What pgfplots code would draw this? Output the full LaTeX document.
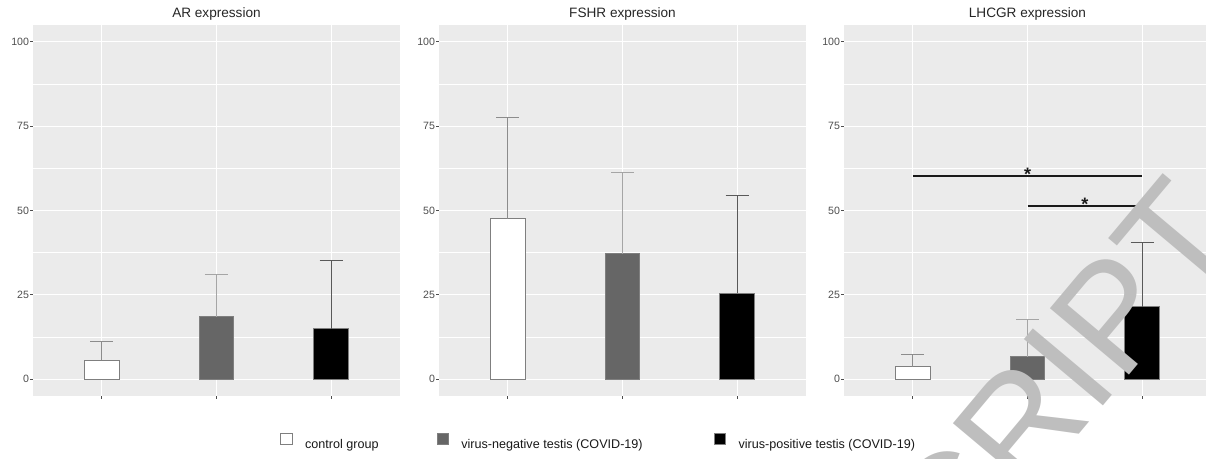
\documentclass[border=0pt]{standalone}
\usepackage{pgfplots}
\pgfplotsset{compat=1.18}
\usepackage{fontspec}
\setmainfont{Liberation Sans}
\definecolor{bgc}{HTML}{EBEBEB}
\definecolor{tickc}{HTML}{4D4D4D}
\definecolor{bord}{HTML}{7F7F7F}
\definecolor{negc}{HTML}{666666}
\definecolor{wm}{HTML}{BEBEBE}
\pgfplotsset{
  panel/.style={
    scale only axis, width=183.5pt, height=185.5pt,
    xmin=0.4, xmax=3.6, ymin=-5, ymax=105,
    axis background/.style={fill=bgc},
    axis line style={draw=none},
    xtick={1,2,3}, xticklabels={,,}, ytick={0,25,50,75,100},
    minor ytick={12.5,37.5,62.5,87.5},
    xmajorgrids, ymajorgrids, yminorgrids,
    major grid style={white, line width=0.55pt},
    minor grid style={white, line width=0.3pt},
    tick align=outside, tick pos=left,
    major tick length=1.3pt, minor tick length=0pt,
    tick style={tickc, line width=0.4pt},
    yticklabel style={font=\fontsize{5.3}{6}\selectfont, text=tickc, inner sep=0.5pt},
    /pgf/number format/assume math mode=true,
    every axis title/.style={at={(0.5,1)}, anchor=base, yshift=3.5pt, inner sep=0pt,
      font=\fontsize{6.8}{8}\selectfont, text=black!85},
    clip=false,
  },
  bars/.style={ybar, bar width=0.3, bar shift=0pt, line width=0.5pt, draw=bord,
    error bars/y dir=plus, error bars/y explicit,
    error bars/error mark=|,
    error bars/error bar style={line width=0.5pt, draw=#1},
    error bars/error mark options={mark size=5.75pt, line width=0.5pt, draw=#1}},
  sig/.style={sharp plot, no marks, line width=1pt, color=black!90},
}
\begin{document}
\begin{tikzpicture}
% ---------------- AR ----------------
\begin{axis}[panel, at={(16.5pt,31.5pt)}, title={AR expression},
  legend style={at={(0.6740,-0.1243)}, anchor=west, draw=none, fill=none,
    inner sep=0pt, outer sep=0pt, legend columns=3,
    font=\fontsize{6.3}{7}\selectfont, text=black!90,
    nodes={inner sep=0pt}, column sep=0pt},
  legend image code/.code={\draw[#1, line width=0.5pt] (0pt,0.2pt) rectangle (5.6pt,5.8pt);},
  legend cell align=left]
\addplot[bars=bord!90, fill=white, forget plot] coordinates {(1,5.6) +- (0,5.5)};
\addplot[bars=bord!70, fill=negc, forget plot] coordinates {(2,18.5) +- (0,12.6)};
\addplot[bars=bord!130, fill=black, forget plot] coordinates {(3,15.0) +- (0,20.2)};
\addlegendimage{fill=white, draw=bord}
\addlegendentry{\makebox[72pt][l]{\hspace*{6.3pt}control group}}
\addlegendimage{fill=negc, draw=bord}
\addlegendentry{\makebox[132.5pt][l]{\hspace*{6.3pt}virus-negative testis (COVID-19)}}
\addlegendimage{fill=black, draw=bord}
\addlegendentry{\hspace*{6.3pt}virus-positive testis (COVID-19)}
\end{axis}
% ---------------- FSHR ----------------
\begin{axis}[panel, at={(219.5pt,31.5pt)}, title={FSHR expression}]
\addplot[bars=bord!90, fill=white] coordinates {(1,47.5) +- (0,30.2)};
\addplot[bars=bord!70, fill=negc] coordinates {(2,37.1) +- (0,24.3)};
\addplot[bars=bord!130, fill=black] coordinates {(3,25.5) +- (0,28.9)};
\end{axis}
% ---------------- LHCGR ----------------
\begin{axis}[panel, at={(422pt,31.5pt)}, title={LHCGR expression}]
\addplot[bars=bord!90, fill=white] coordinates {(1,3.7) +- (0,3.7)};
\addplot[bars=bord!70, fill=negc] coordinates {(2,6.6) +- (0,11.1)};
\addplot[bars=bord!130, fill=black] coordinates {(3,21.5) +- (0,19.0)};
\addplot[sig] coordinates {(1,60.2) (3,60.2)};
\addplot[sig] coordinates {(2,51.4) (3,51.4)};
\node[font=\bfseries\fontsize{9}{9}\selectfont, anchor=base, inner sep=0pt, yshift=-2.3pt, text=black!90] at (axis cs:2,60.2) {*};
\node[font=\bfseries\fontsize{9}{9}\selectfont, anchor=base, inner sep=0pt, yshift=-2.3pt, text=black!90] at (axis cs:2.5,51.4) {*};
\end{axis}
% watermark
\node[rotate=50, anchor=base east, inner sep=0pt, text=wm, font=\fontsize{75}{75}\selectfont] at (622.5pt,111pt) {ACCEPTED MANUSCRIPT};
\pgfresetboundingbox
\path[use as bounding box] (0,0) rectangle (603pt,229.5pt);
\end{tikzpicture}
\end{document}
